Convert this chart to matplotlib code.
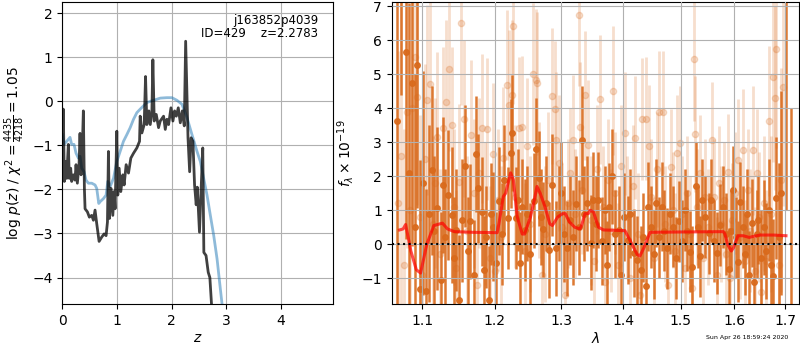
import numpy as np
import matplotlib
matplotlib.use('Agg')
import matplotlib.pyplot as plt
from matplotlib.ticker import FixedLocator, NullLocator, FormatStrFormatter

# ---- left panel: redshift PDF ----
z_pz = [0.000, 0.018, 0.037, 0.061, 0.080, 0.110, 0.128, 0.153, 0.171, 0.202,
        0.232, 0.251, 0.275, 0.306, 0.324, 0.343, 0.361, 0.385, 0.404, 0.416,
        0.459, 0.495, 0.538, 0.569, 0.599, 0.630, 0.673, 0.722, 0.765, 0.801,
        0.826, 0.844, 0.862, 0.893, 0.924, 0.948, 0.966, 0.997, 1.015, 1.040,
        1.070, 1.107, 1.131, 1.168, 1.211, 1.254, 1.303, 1.364, 1.413, 1.425,
        1.456, 1.498, 1.523, 1.547, 1.584, 1.609, 1.639, 1.657, 1.682, 1.719,
        1.761, 1.792, 1.853, 1.884, 1.914, 1.945, 1.988, 2.024, 2.055, 2.086,
        2.122, 2.159, 2.196, 2.232, 2.257, 2.300, 2.330, 2.356, 2.390, 2.420,
        2.450, 2.470, 2.510, 2.540, 2.570, 2.590, 2.630, 2.670, 2.700, 2.750]
logp = [-1.67, -0.18, -1.82, -1.37, -1.75, -0.98, -1.75, -1.52, -1.82, -1.67,
        -1.79, -1.44, -1.86, -1.44, -0.73, -1.67, -1.29, -0.22, -1.98, -2.44,
        -2.51, -2.63, -2.59, -2.70, -2.47, -2.78, -3.18, -3.08, -3.01, -3.05,
        -2.74, -1.14, -2.66, -1.98, -2.59, -2.05, -2.44, -0.68, -2.13, -1.52,
        -2.05, -1.67, -1.90, -1.44, -1.63, -1.29, -1.18, -1.06, -0.91, -0.34,
        -0.72, -0.53, 0.56, -0.53, -0.22, -0.53, -0.26, 0.94, -0.45, -0.30,
        -0.60, -0.45, -0.34, -0.64, -0.41, -0.53, -0.15, -0.45, -0.22, -0.34,
        -0.15, -0.49, -0.22, -0.56, 1.36, -0.83, -1.60, -0.83, -0.91, -1.90,
        -2.35, -1.95, -2.97, -2.00, -1.06, -3.43, -3.50, -3.88, -4.00, -5.00]

z_prior = [0.000, 0.031, 0.080, 0.141, 0.171, 0.214, 0.251, 0.294, 0.324, 0.355,
           0.398, 0.434, 0.477, 0.538, 0.599, 0.630, 0.667, 0.691, 0.752, 0.801,
           0.832, 0.875, 0.936, 0.997, 1.058, 1.119, 1.180, 1.242, 1.303, 1.364,
           1.425, 1.547, 1.670, 1.792, 1.914, 2.006, 2.098, 2.190, 2.281, 2.373,
           2.465, 2.526, 2.587, 2.648, 2.709, 2.771, 2.832, 2.893, 2.954]
logp_prior = [-0.76, -0.98, -0.91, -0.82, -0.98, -0.98, -1.18, -1.29, -1.25, -1.52,
              -1.60, -1.79, -1.86, -1.86, -1.90, -1.98, -2.32, -2.28, -2.21, -2.13,
              -1.82, -1.94, -1.75, -1.37, -1.14, -0.91, -0.76, -0.60, -0.41, -0.26,
              -0.18, -0.03, 0.02, 0.07, 0.08, 0.08, 0.02, -0.07, -0.37, -0.76,
              -1.14, -1.37, -1.75, -2.13, -2.59, -3.05, -3.58, -4.27, -4.95]

# ---- right panel: spectrum ----
wave_a = [1.0667, 1.0725, 1.0782, 1.0820, 1.0861, 1.0900, 1.0931, 1.0968, 1.1010, 1.1051,
          1.1090, 1.1130, 1.1160, 1.1190, 1.1245, 1.1278, 1.1310, 1.1347, 1.1394, 1.1425,
          1.1454, 1.1500, 1.1540, 1.1583, 1.1620, 1.1653, 1.1700, 1.1736, 1.1755, 1.1810,
          1.1847, 1.1880, 1.1917, 1.1950, 1.1972, 1.2020, 1.2059, 1.2100, 1.2140, 1.2191,
          1.2230, 1.2255, 1.2304, 1.2340, 1.2368, 1.2400, 1.2436, 1.2480, 1.2525, 1.2574,
          1.2608, 1.2652, 1.2690, 1.2721, 1.2760, 1.2804, 1.2858, 1.2917, 1.2960, 1.3000,
          1.3040, 1.3087, 1.3130, 1.3180, 1.3235, 1.3280, 1.3317, 1.3360, 1.3399, 1.3470,
          1.3508, 1.3550, 1.3590, 1.3640, 1.3690, 1.3727, 1.3770, 1.3820, 1.3870, 1.3929,
          1.3962, 1.4010, 1.4076, 1.4120, 1.4176, 1.4235, 1.4294, 1.4340, 1.4382, 1.4424,
          1.4470, 1.4520, 1.4559, 1.4610, 1.4665, 1.4710, 1.4753, 1.4800, 1.4853, 1.4918,
          1.4971, 1.5020, 1.5070, 1.5120, 1.5170, 1.5212, 1.5273, 1.5310, 1.5352, 1.5394,
          1.5450, 1.5515, 1.5564, 1.5610, 1.5667, 1.5727, 1.5780, 1.5840, 1.5897, 1.5940,
          1.5970, 1.6020, 1.6067, 1.6113, 1.6160, 1.6200, 1.6250, 1.6287, 1.6333, 1.6387,
          1.6430, 1.6467, 1.6520, 1.6570, 1.6620, 1.6670, 1.6720, 1.6767, 1.6820, 1.6870,
          1.6920, 1.7022, 1.7120]
flux_a = [3.63, 9.00, 5.65, 2.09, 4.74, 0.50, 5.27, -1.31, 1.80, -1.37,
          0.90, 2.17, 0.40, 1.06, -1.05, 1.75, 0.20, 1.45, 0.86, -0.40,
          0.42, -1.64, 0.70, 2.31, -0.20, 0.67, -0.90, 2.66, 1.65, 0.96,
          -0.77, 0.20, -1.64, 0.90, 0.52, -0.54, 1.27, 0.30, 1.90, 0.76,
          2.68, 3.28, 0.76, 1.30, -0.56, 1.10, 0.42, 0.90, -0.28, 1.28,
          2.79, 1.94, 0.80, 0.44, 1.20, -0.17, 1.75, -0.12, 0.90, 1.50,
          0.30, -0.12, 0.70, 0.20, 1.19, 0.50, 3.07, 0.90, 1.21, 0.05,
          1.30, 0.60, 1.30, 0.10, 1.00, -0.61, 1.09, 2.00, 0.30, 0.42,
          -0.90, 0.80, 0.13, 0.90, -0.26, -0.46, -0.75, 0.20, -1.22, 1.11,
          0.50, -0.30, 1.21, 0.20, 1.11, 0.40, -0.12, 0.90, 0.52, -0.41,
          0.67, 0.10, 1.00, 0.40, -0.22, -0.66, 1.70, 0.50, -0.36, 1.30,
          0.80, 0.32, 1.30, 0.10, -0.26, 0.57, 1.10, 0.30, -0.73, 0.40,
          1.60, 0.20, -0.51, 1.23, 0.50, -0.30, 0.90, -0.90, 0.62, -1.10,
          0.30, 0.72, -0.40, 0.50, -0.20, 1.00, -0.60, -0.95, 1.37, 0.20,
          1.50, 7.50, -3.00]
err_a = [6.0, 4.6, 5.5, 5.0, 4.8, 4.5, 4.2, 3.8, 3.3, 3.0,
         2.6, 2.5, 2.2, 2.4, 2.0, 2.0, 2.0, 1.9, 2.0, 1.8,
         1.8, 1.9, 1.8, 1.8, 1.6, 1.7, 1.6, 1.7, 1.6, 1.6,
         1.6, 1.5, 1.6, 1.5, 1.6, 1.5, 1.6, 1.5, 1.6, 1.5,
         1.6, 1.7, 1.5, 1.5, 1.5, 1.4, 1.5, 1.4, 1.5, 1.4,
         1.5, 1.4, 1.4, 1.4, 1.4, 1.4, 1.5, 1.4, 1.4, 1.5,
         1.4, 1.4, 1.3, 1.4, 1.4, 1.4, 1.6, 1.4, 1.4, 1.4,
         1.4, 1.4, 1.4, 1.3, 1.3, 1.3, 1.3, 1.4, 1.3, 1.3,
         1.3, 1.3, 1.3, 1.3, 1.3, 1.3, 1.3, 1.3, 1.3, 1.3,
         1.2, 1.3, 1.3, 1.2, 1.3, 1.2, 1.2, 1.2, 1.2, 1.2,
         1.2, 1.2, 1.2, 1.2, 1.2, 1.2, 1.3, 1.2, 1.2, 1.2,
         1.2, 1.2, 1.2, 1.2, 1.2, 1.2, 1.2, 1.2, 1.2, 1.2,
         1.3, 1.2, 1.2, 1.2, 1.2, 1.2, 1.3, 1.3, 1.3, 1.3,
         1.3, 1.3, 1.4, 1.4, 1.4, 1.5, 1.6, 1.7, 1.8, 2.2,
         3.0, 6.5, 7.0]

wave_b = [1.0685, 1.0720, 1.0760, 1.0800, 1.0840, 1.0866, 1.0898, 1.0931, 1.0965, 1.1000,
          1.1030, 1.1060, 1.1106, 1.1140, 1.1170, 1.1199, 1.1240, 1.1278, 1.1315, 1.1361,
          1.1394, 1.1430, 1.1460, 1.1500, 1.1523, 1.1569, 1.1600, 1.1662, 1.1700, 1.1740,
          1.1780, 1.1824, 1.1860, 1.1894, 1.1930, 1.1977, 1.2010, 1.2050, 1.2085, 1.2123,
          1.2172, 1.2206, 1.2245, 1.2265, 1.2300, 1.2353, 1.2402, 1.2440, 1.2475, 1.2520,
          1.2559, 1.2608, 1.2623, 1.2660, 1.2700, 1.2750, 1.2794, 1.2853, 1.2892, 1.2917,
          1.2966, 1.3010, 1.3050, 1.3100, 1.3140, 1.3180, 1.3220, 1.3273, 1.3290, 1.3330,
          1.3372, 1.3426, 1.3470, 1.3520, 1.3570, 1.3617, 1.3660, 1.3700, 1.3750, 1.3790,
          1.3825, 1.3870, 1.3920, 1.3970, 1.4029, 1.4070, 1.4110, 1.4160, 1.4206, 1.4250,
          1.4290, 1.4324, 1.4382, 1.4441, 1.4480, 1.4530, 1.4580, 1.4618, 1.4676, 1.4720,
          1.4770, 1.4824, 1.4870, 1.4900, 1.4941, 1.4988, 1.5030, 1.5080, 1.5120, 1.5170,
          1.5210, 1.5242, 1.5261, 1.5300, 1.5350, 1.5400, 1.5450, 1.5500, 1.5576, 1.5620,
          1.5660, 1.5697, 1.5750, 1.5800, 1.5840, 1.5879, 1.5920, 1.5960, 1.6010, 1.6067,
          1.6110, 1.6167, 1.6210, 1.6260, 1.6300, 1.6353, 1.6390, 1.6433, 1.6480, 1.6520,
          1.6570, 1.6620, 1.6667, 1.6710, 1.6753, 1.6800, 1.6820, 1.6870, 1.6920, 1.6967]
flux_b = [1.20, 2.60, -0.60, 3.90, 1.00, 4.00, 5.52, 4.34, 0.80, -0.90,
          2.50, 4.25, 4.72, 0.60, 1.80, 3.17, -0.30, 3.41, 4.20, 5.15,
          3.51, 1.10, -0.70, 1.84, 6.50, 3.70, 0.40, 3.22, 1.50, -1.20,
          2.10, 3.41, 0.90, 3.39, -0.40, 2.66, -0.80, 1.30, 0.20, 2.53,
          4.69, 4.10, 4.39, 6.42, 1.40, 3.41, 3.44, -0.20, 2.89, 0.60,
          5.01, 4.83, 4.74, 1.60, -0.90, 0.30, 1.89, 4.36, 3.97, 3.07,
          2.38, 0.50, -1.50, 1.20, 2.10, 3.07, 0.90, 6.75, 3.46, 1.60,
          4.39, 2.92, 0.70, -0.50, 2.20, 4.26, 1.10, -1.10, 1.90, 0.40,
          4.52, 1.50, -0.60, 2.30, 3.26, 0.80, -1.00, 1.70, 3.14, 0.30,
          -1.50, 3.69, 3.70, 2.90, 1.40, -0.40, 2.20, 3.88, 3.88, 0.60,
          -1.20, 2.28, 1.00, -0.20, 2.68, 2.97, 0.90, -0.70, 1.50, 0.30,
          -1.30, 5.44, 3.25, 1.10, 2.10, -0.40, 1.40, 0.50, 3.07, 1.40,
          -0.90, 1.79, 0.60, 1.30, -0.30, 2.14, -1.00, 0.70, 1.50, 2.48,
          0.20, 2.77, -0.50, 1.60, 0.40, 2.77, -0.80, 2.09, 0.80, -1.40,
          1.20, -0.50, 3.63, 0.90, 4.91, 4.31, 5.74, -0.60, 1.90, 4.62]
err_b = [4.5, 4.5, 4.0, 4.0, 3.8, 3.5, 3.5, 3.2, 3.0, 3.0,
         2.8, 2.8, 2.6, 2.6, 2.5, 2.5, 2.5, 2.4, 2.4, 2.4,
         2.3, 2.3, 2.3, 2.3, 2.4, 2.3, 2.2, 2.2, 2.2, 2.2,
         2.2, 2.2, 2.1, 2.1, 2.1, 2.1, 2.1, 2.1, 2.1, 2.1,
         2.2, 2.2, 2.2, 2.3, 2.1, 2.1, 2.1, 2.0, 2.0, 2.0,
         2.1, 2.1, 2.1, 2.0, 2.0, 2.0, 2.0, 2.0, 2.0, 2.0,
         2.0, 1.9, 2.0, 1.9, 1.9, 1.9, 1.9, 2.1, 1.9, 1.9,
         1.9, 1.9, 1.9, 1.9, 1.9, 1.9, 1.8, 1.9, 1.8, 1.8,
         1.9, 1.8, 1.8, 1.8, 1.8, 1.8, 1.8, 1.8, 1.8, 1.8,
         1.8, 1.8, 1.8, 1.8, 1.7, 1.8, 1.7, 1.8, 1.8, 1.7,
         1.7, 1.7, 1.7, 1.7, 1.7, 1.7, 1.7, 1.7, 1.7, 1.7,
         1.7, 1.8, 1.7, 1.7, 1.7, 1.7, 1.7, 1.7, 1.7, 1.7,
         1.7, 1.7, 1.7, 1.7, 1.7, 1.7, 1.7, 1.7, 1.8, 1.8,
         1.8, 1.8, 1.8, 1.8, 1.8, 1.9, 1.9, 1.9, 1.9, 2.0,
         2.0, 2.1, 2.2, 2.3, 2.5, 2.7, 2.9, 3.0, 3.3, 3.5]

wave_model = [1.0704, 1.0750, 1.0782, 1.0850, 1.0921, 1.0977, 1.1060, 1.1153, 1.1269, 1.1338,
              1.1430, 1.1700, 1.2034, 1.2059, 1.2123, 1.2157, 1.2230, 1.2270, 1.2328, 1.2402,
              1.2436, 1.2525, 1.2583, 1.2623, 1.2672, 1.2745, 1.2819, 1.2858, 1.2941, 1.3015,
              1.3060, 1.3126, 1.3208, 1.3290, 1.3317, 1.3372, 1.3426, 1.3454, 1.3508, 1.3590,
              1.3672, 1.4029, 1.4118, 1.4235, 1.4282, 1.4353, 1.4459, 1.5000, 1.5788, 1.5818,
              1.5867, 1.5939, 1.5982, 1.6067, 1.6167, 1.6287, 1.6333, 1.6500, 1.6767, 1.7020]
flux_model = [0.42, 0.45, 0.58, -0.20, -0.75, -0.85, 0.00, 0.55, 0.62, 0.45,
              0.37, 0.35, 0.34, 0.60, 1.40, 1.50, 2.10, 1.90, 0.80, 0.30,
              0.30, 0.80, 1.30, 1.70, 1.50, 1.10, 0.60, 0.55, 0.80, 0.90,
              0.90, 0.65, 0.50, 0.45, 0.55, 0.90, 0.90, 1.00, 0.95, 0.50,
              0.42, 0.40, 0.10, -0.30, -0.35, -0.10, 0.35, 0.36, 0.37, 0.30,
              0.00, -0.20, -0.10, 0.25, 0.25, 0.20, 0.22, 0.27, 0.27, 0.25]

xticks_right = [1.1, 1.2, 1.3, 1.4, 1.5, 1.6, 1.7]

orange = '#d96a1c'

fig = plt.figure(figsize=(8, 3.5), dpi=100)
ax0 = fig.add_axes([0.0779, 0.1314, 0.3388, 0.8629])
ax1 = fig.add_axes([0.4896, 0.1314, 0.5095, 0.8629])

# left: p(z)
ax0.plot(z_prior, logp_prior, color='#1f77b4', alpha=0.5, linewidth=2)
ax0.plot(z_pz, logp, color='k', alpha=0.75, linewidth=2)
ax0.set_xlim(0, 4.96)
ax0.set_ylim(-4.6, 2.25)
ax0.set_xticks([0, 1, 2, 3, 4])
ax0.set_yticks([-4, -3, -2, -1, 0, 1, 2])
ax0.grid()
ax0.set_xlabel('$z$', fontsize=10, labelpad=2)
ax0.set_ylabel(r'log $p(z)$ / $\chi^2=\frac{4435}{4218}=1.05$', fontsize=10, labelpad=4)
ax0.text(0.945, 0.96, 'j163852p4039\nID=429    z=2.2783', transform=ax0.transAxes,
         ha='right', va='top', fontsize=8.5, linespacing=0.95)

# right: spectrum
ax1.errorbar(wave_b, flux_b, yerr=err_b, marker='o', linestyle='none', color=orange,
             alpha=0.22, ms=4.5, elinewidth=2, capsize=0, zorder=1)
ax1.errorbar(wave_a, flux_a, yerr=err_a, marker='o', linestyle='none', color=orange,
             alpha=0.9, ms=4, elinewidth=1.8, capsize=0, zorder=1.2)
ax1.plot(wave_model, flux_model, color='r', alpha=0.7, linewidth=2.2, zorder=4)
ax1.axhline(0, color='k', linestyle=':', linewidth=1.5, zorder=5)
ax1.set_xscale('log')
ax1.set_xlim(1.0603, 1.7294)
ax1.set_ylim(-1.76, 7.13)
ax1.xaxis.set_major_locator(FixedLocator(xticks_right))
ax1.xaxis.set_minor_locator(NullLocator())
ax1.xaxis.set_major_formatter(FormatStrFormatter('%.1f'))
ax1.set_yticks([-1, 0, 1, 2, 3, 4, 5, 6, 7])
ax1.set_axisbelow(False)
ax1.grid()
ax1.set_xlabel(r'$\lambda$', fontsize=10, labelpad=2)
ax1.set_ylabel(r'$f_\lambda\times10^{-19}$', fontsize=10)

fig.text(0.985, 0.035, 'Sun Apr 26 18:59:24 2020', ha='right', va='center', fontsize=4.5)

fig.savefig('out.png', dpi=100)
